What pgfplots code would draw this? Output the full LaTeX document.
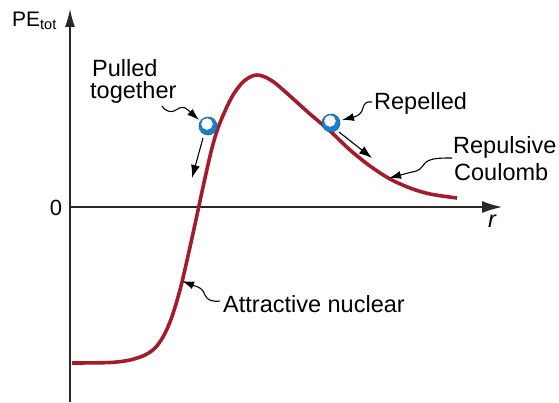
\documentclass[border=0pt]{standalone}
\usepackage{pgfplots}
\pgfplotsset{compat=1.18}
\usepackage{fontspec}
\setmainfont{Liberation Sans}
\usetikzlibrary{arrows.meta}
\definecolor{curvered}{RGB}{163,28,44}
\definecolor{ballblue}{RGB}{28,128,200}
\definecolor{axisgray}{RGB}{40,40,40}
\begin{document}
\begin{tikzpicture}
\begin{axis}[
  width=559pt, height=402pt, scale only axis,
  xmin=-70, xmax=489, ymin=-195, ymax=207,
  axis lines=none, xtick=\empty, ytick=\empty,
  clip=false,
]
\path (axis cs:-70,-195) rectangle (axis cs:489,207);
% axes
\draw[axisgray, line width=1.2pt, -{Latex[length=18pt,width=10pt]}] (axis cs:0,-195) -- (axis cs:0,198);
\draw[axisgray, line width=1.2pt, -{Latex[length=20pt,width=12pt]}] (axis cs:0,0) -- (axis cs:432,0);
% potential energy curve
\addplot[curvered, line width=3.6pt, smooth, tension=0.55] coordinates {
(2,-156) (40,-155.5) (60,-153) (75,-148) (85,-141) (93,-130) (100,-115)
(106,-97) (112,-75) (120,-40) (127,-8) (135,29) (142,59) (148,79)
(155,96) (163,112) (172,124) (180,130) (187,132) (195,130) (205,124)
(220,111) (240,93) (260,76) (280,57) (300,41) (320,28) (340,19)
(360,13) (387,9)
};
% balls
\addplot[only marks, mark=*, mark size=9pt, mark options={fill=ballblue, draw=ballblue!80!black, line width=0.6pt}] coordinates {(138,81) (261,84)};
\addplot[only marks, mark=*, mark size=5.5pt, mark options={fill=white, draw=white}] coordinates {(137,83) (260,86)};
% force arrows
\draw[black, line width=1.1pt, -{Latex[length=13pt,width=9pt]}] (axis cs:133,69) -- (axis cs:122,29);
\draw[black, line width=1.1pt, -{Latex[length=13pt,width=9pt]}] (axis cs:269,75) -- (axis cs:302,49);
% callout squiggles
\draw[black, line width=1.1pt, -{Latex[length=12pt,width=8pt]}] (axis cs:92,101) .. controls (axis cs:96,95) and (axis cs:102,94) .. (axis cs:106,97) .. controls (axis cs:110,100) and (axis cs:114,101) .. (axis cs:118,97) -- (axis cs:129,87);
\draw[black, line width=1.1pt, -{Latex[length=12pt,width=8pt]}] (axis cs:302,105) .. controls (axis cs:296,106) and (axis cs:294,103) .. (axis cs:293,99) .. controls (axis cs:292,94) and (axis cs:288,91) .. (axis cs:284,90) -- (axis cs:272,87);
\draw[black, line width=1.1pt, -{Latex[length=12pt,width=8pt]}] (axis cs:382,49) .. controls (axis cs:370,49) and (axis cs:360,49) .. (axis cs:355,44) .. controls (axis cs:351,39) and (axis cs:350,36) .. (axis cs:342,35) -- (axis cs:319,29);
\draw[black, line width=1.1pt, -{Latex[length=12pt,width=8pt]}] (axis cs:150,-94) .. controls (axis cs:142,-95) and (axis cs:137,-93) .. (axis cs:135,-88) .. controls (axis cs:133,-82) and (axis cs:129,-80) .. (axis cs:125,-79) -- (axis cs:112,-74);
% labels
\node[anchor=base west, inner sep=0pt, font=\fontsize{21}{24}\selectfont] at (axis cs:-58,180) {PE\raisebox{-3pt}{\fontsize{14.5}{16}\selectfont tot}};
\node[anchor=base, inner sep=0pt, font=\fontsize{22}{26}\selectfont] at (axis cs:-14,-8) {0};
\node[anchor=base west, inner sep=0pt, font=\fontsize{23.5}{26}\selectfont\itshape] at (axis cs:418,-20) {r};
\node[anchor=base west, inner sep=0pt, font=\fontsize{23.5}{26}\selectfont] at (axis cs:22,131) {Pulled};
\node[anchor=base west, inner sep=0pt, font=\fontsize{23.5}{26}\selectfont] at (axis cs:20,109) {together};
\node[anchor=base west, inner sep=0pt, font=\fontsize{23.5}{26}\selectfont] at (axis cs:304,98) {Repelled};
\node[anchor=base west, inner sep=0pt, font=\fontsize{23.5}{26}\selectfont] at (axis cs:383,54) {Repulsive};
\node[anchor=base west, inner sep=0pt, font=\fontsize{23.5}{26}\selectfont] at (axis cs:384,27) {Coulomb};
\node[anchor=base west, inner sep=0pt, font=\fontsize{23.5}{26}\selectfont] at (axis cs:153,-105) {Attractive nuclear};
\end{axis}
\end{tikzpicture}
\end{document}
